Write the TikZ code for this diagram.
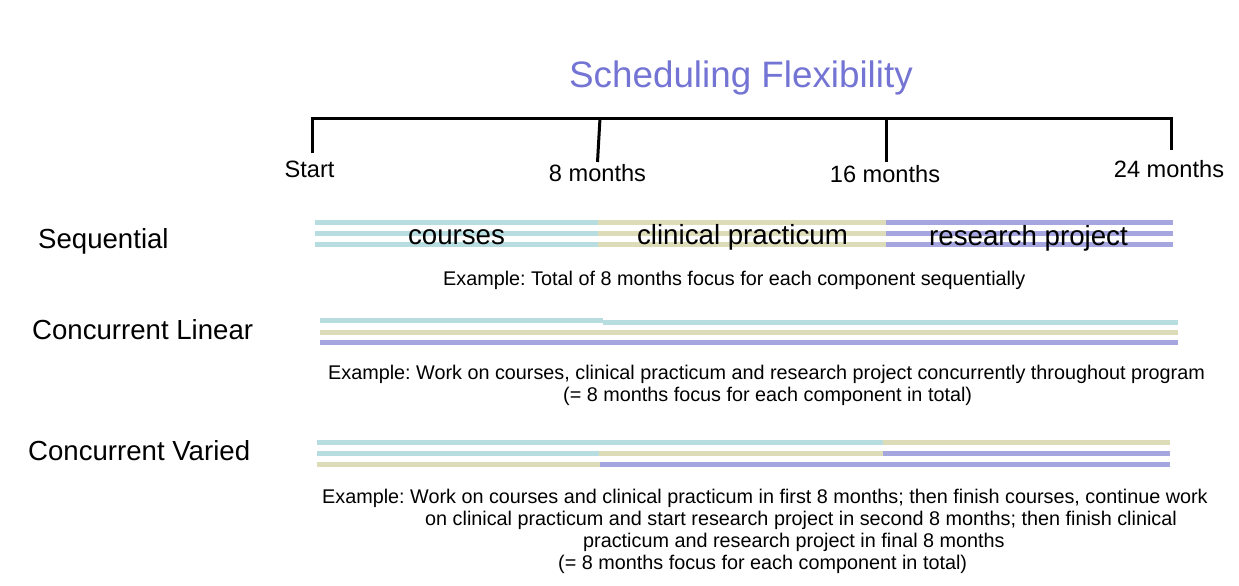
\documentclass[tikz,border=0pt]{standalone}
\usepackage{fontspec}
\setmainfont{Liberation Sans}
\frenchspacing
\definecolor{cyanbar}{HTML}{B7DDE0}
\definecolor{olivebar}{HTML}{DDDCB8}
\definecolor{purplebar}{HTML}{A5A5E0}
\definecolor{titlecol}{HTML}{7474D4}
\tikzset{
  bar/.style={line width=5pt},
  cy/.style={bar, draw=cyanbar},
  ol/.style={bar, draw=olivebar},
  pu/.style={bar, draw=purplebar},
  txt/.style={inner sep=0pt, anchor=base},
  txtw/.style={inner sep=0pt, anchor=base west},
  rowlab/.style={txtw, font=\fontsize{27.6}{32}\selectfont},
  barlab/.style={txt, font=\fontsize{27.7}{32}\selectfont},
  ticklab/.style={txt, font=\fontsize{23.6}{28}\selectfont},
  example/.style={txtw, font=\fontsize{19.8}{22}\selectfont},
  bracket/.style={line width=3pt, line join=miter}
}
\begin{document}
\begin{tikzpicture}[x=1pt,y=-1pt]
\useasboundingbox (0,0) rectangle (1239,586);
% title
\node[txt, font=\fontsize{36.8}{42}\selectfont, text=titlecol] (title) at (741,87.5) {Scheduling Flexibility};
% timeline bracket
\coordinate (b0) at (312,153);
\coordinate (b0t) at (312,118);
\coordinate (b3t) at (1171,118);
\coordinate (b3) at (1171,150);
\coordinate (b1t) at (600,118);
\coordinate (b1) at (597.5,162);
\coordinate (b2t) at (886,118);
\coordinate (b2) at (886,162);
\draw[bracket] (b0) -- (b0t) -- (b3t) -- (b3);
\draw[bracket] (b1t) -- (b1);
\draw[bracket] (b2t) -- (b2);
\node[ticklab] (tstart) at (309.5,177) {Start};
\node[ticklab] (t8) at (597.5,181) {8 months};
\node[ticklab] (t16) at (885,182) {16 months};
\node[ticklab] (t24) at (1169,177) {24 months};
% row labels
\node[rowlab] (seq) at (38,248) {Sequential};
\node[rowlab] (cl) at (32,339) {Concurrent Linear};
\node[rowlab] (cv) at (28,460) {Concurrent Varied};
% sequential bars
\foreach \y in {222.3,233.2,244.8}{
  \draw[cy] (315,\y) -- (598,\y);
  \draw[ol] (598,\y) -- (886,\y);
  \draw[pu] (886,\y) -- (1173,\y);
}
\node[barlab] (courses) at (456.5,244) {courses};
\node[barlab] (clin) at (742.5,244) {clinical practicum};
\node[barlab] (res) at (1028.5,245) {research project};
\node[example] (ex1) at (443,285.5) {Example: Total of 8 months focus for each component sequentially};
% concurrent linear bars
\draw[cy] (320,320.8) -- (603,320.8);
\draw[cy] (603,322.3) -- (1178,322.3);
\draw[ol] (320,332.2) -- (607,332.2);
\draw[ol] (607,332.7) -- (1178,332.7);
\draw[pu] (320,342.5) -- (1178,342.5);
\node[example] (ex2a) at (328,379) {Example: Work on courses, clinical practicum and research project concurrently throughout program};
\node[example] (ex2b) at (563,401) {(= 8 months focus for each component in total)};
% concurrent varied bars
\draw[cy] (317,442.5) -- (883,442.5);
\draw[ol] (883,442.5) -- (1170,442.5);
\draw[cy] (317,453.2) -- (599,453.2);
\draw[ol] (599,453.2) -- (883,453.2);
\draw[pu] (883,453.2) -- (1170,453.2);
\draw[ol] (317,464.2) -- (600,464.2);
\draw[pu] (600,464.2) -- (1170,464.2);
\node[example] (ex3a) at (322,503.5) {Example: Work on courses and clinical practicum in first 8 months; then finish courses, continue work};
\node[example] (ex3b) at (425,525.5) {on clinical practicum and start research project in second 8 months; then finish clinical};
\node[example] (ex3c) at (583,547.5) {practicum and research project in final 8 months};
\node[example] (ex3d) at (558,569.5) {(= 8 months focus for each component in total)};
\end{tikzpicture}
\end{document}
